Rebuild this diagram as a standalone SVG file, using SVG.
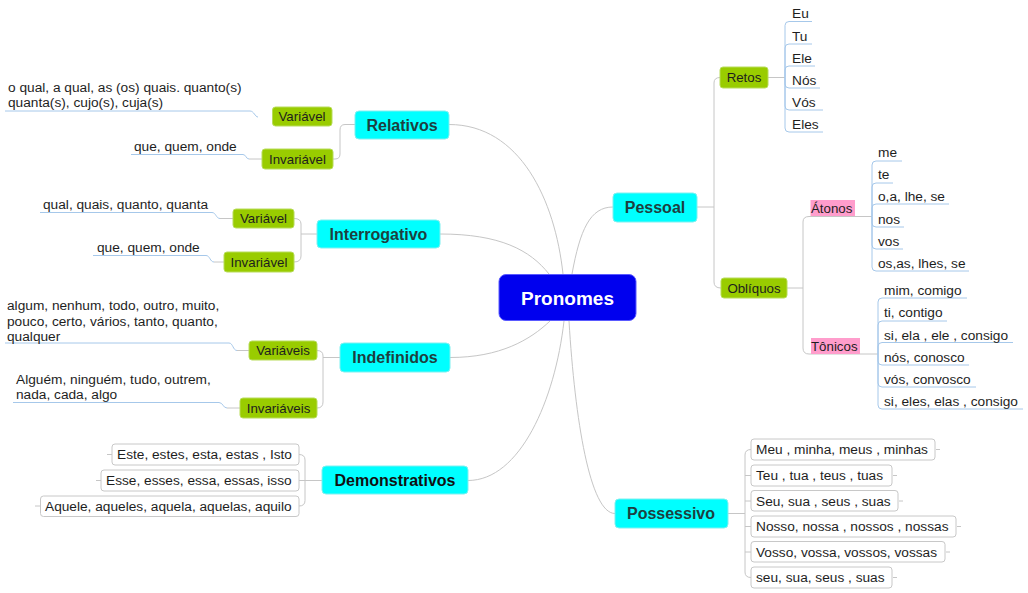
<svg xmlns="http://www.w3.org/2000/svg" width="1028" height="593" viewBox="0 0 1028 593">
<style>
text{font-family:"Liberation Sans",Arial,sans-serif;fill:#1e1e1e;font-size:13.7px}
.main{fill:#00ffff;stroke:#7ff0f0;stroke-width:1}
.main-t{font-size:16px;font-weight:bold;fill:#1d3f40;text-anchor:middle}
.sub{fill:#99cc00;stroke:#b8dc5a;stroke-width:1}
.sub-t{text-anchor:middle;font-size:13.3px}
.pink{fill:#ff9dcc}
.leaf{fill:#ffffff;stroke:#c8c8c8;stroke-width:1}
.c{fill:none;stroke:#c6c6c6;stroke-width:1}
.u{fill:none;stroke:#a6c8ea;stroke-width:1}
</style>
<rect width="1028" height="593" fill="#ffffff"/>
<g id="connectors">
<path class="c" d="M449,124.5 C520,124.5 555,200 563,274"/>
<path class="c" d="M440,234 C500,234 530,250 549,274"/>
<path class="c" d="M572,274 C580,230 590,207 613,207"/>
<path class="c" d="M450,357.5 C500,357.5 530,340 550,321"/>
<path class="c" d="M468,480.5 C520,480.5 555,400 564,321"/>
<path class="c" d="M569,321 C575,420 590,513.5 615,513.5"/>
<path class="c" d="M355,124.5 H345 Q340,124.5 340,130 V154 Q340,159 335,159 H333"/>
<path class="u" d="M5,111 H250 C254,111 255,117 258,117"/>
<path class="u" d="M131,154.5 H243 C246,154.5 246,159 249,159"/>
<path class="c" d="M249,159 H262"/>
<path class="c" d="M317,234 H301"/>
<path class="c" d="M294,218.5 Q301,218.5 301,224 V256 Q301,262 294,262"/>
<path class="u" d="M40,212.5 H212 C216,212.5 216,218.5 220,218.5"/>
<path class="c" d="M220,218.5 H233"/>
<path class="u" d="M93,255.5 H206 C210,255.5 210,262 214,262"/>
<path class="c" d="M214,262 H224"/>
<path class="c" d="M340,357.5 H323"/>
<path class="c" d="M317,350.5 Q323,350.5 323,356 V402 Q323,408 317,408"/>
<path class="u" d="M5,343 H229 C233,343 233,350.5 237,350.5"/>
<path class="c" d="M237,350.5 H249"/>
<path class="u" d="M13,402.5 H219 C223,402.5 223,408 227,408"/>
<path class="c" d="M227,408 H240"/>
<path class="c" d="M322,480.5 H299"/>
<path class="c" d="M299,454.5 Q305,454.5 305,460 V500.5 Q305,506 299,506"/>
<path class="c" d="M107,454.5 H112 M96,480.5 H101 M35,506 H40"/>
<path class="c" d="M697,207 H714"/>
<path class="c" d="M720,77.5 Q714,77.5 714,83 V282 Q714,288 721,288"/>
<path class="c" d="M768,77.5 H785"/>
<path class="u" d="M785,77.5 V25.5 Q785,21.5 789,21.5 H812"/>
<path class="u" d="M785,77.5 V48 Q785,44 789,44 H812"/>
<path class="u" d="M785,77.5 V70 Q785,66 789,66 H815"/>
<path class="u" d="M785,77.5 V84 Q785,88 789,88 H820"/>
<path class="u" d="M785,77.5 V106 Q785,110 789,110 H823"/>
<path class="u" d="M785,77.5 V128 Q785,132 789,132 H823"/>
<path class="c" d="M787,288 H803"/>
<path class="c" d="M872,216.5 H809 Q803,216.5 803,222 V348 Q803,354 809,354 H878"/>
<path class="u" d="M872,216.5 V165 Q872,161 876,161 H902"/>
<path class="u" d="M872,216.5 V187 Q872,183 876,183 H893"/>
<path class="u" d="M872,216.5 V208 Q872,204 876,204 H949"/>
<path class="u" d="M872,216.5 V223 Q872,227 876,227 H904"/>
<path class="u" d="M872,216.5 V245 Q872,249 876,249 H903"/>
<path class="u" d="M872,216.5 V267 Q872,271 876,271 H969"/>
<path class="u" d="M878,354 V302 Q878,298 882,298 H967"/>
<path class="u" d="M878,354 V325 Q878,321 882,321 H947"/>
<path class="u" d="M878,354 V346.5 Q878,342.5 882,342.5 H1013"/>
<path class="u" d="M878,354 V361 Q878,365 882,365 H969"/>
<path class="u" d="M878,354 V383 Q878,387 882,387 H976"/>
<path class="u" d="M878,354 V405 Q878,409 882,409 H1023"/>
<path class="c" d="M728,513.5 H745"/>
<path class="c" d="M751,449.5 Q745,449.5 745,455 V572 Q745,577.5 751,577.5"/>
<path class="c" d="M745,475.5 H751 M745,501 H751 M745,526.5 H751 M745,552 H751"/>
<path class="c" d="M936,449.5 H940 M893,475.5 H897 M899,501 H903 M957,526.5 H961 M946,552 H950 M893,577.5 H897"/>
</g>
<g id="pronomes">
<rect x="499" y="274.5" width="137" height="46" rx="7" fill="#0000ee" stroke="#5a5aff"/>
<text x="567.5" y="305" style="font-size:19px;font-weight:bold;fill:#ffffff;text-anchor:middle">Pronomes</text>
</g>
<g id="relativos">
<rect class="main" x="355" y="111" width="94" height="28" rx="4"/>
<text class="main-t" x="402" y="131">Relativos</text>
</g>
<g id="rel-variavel">
<rect class="sub" x="272.5" y="107" width="59.5" height="19" rx="3"/>
<text class="sub-t" x="302" y="121">Variável</text>
</g>
<g id="rel-variavel-items">
<text x="8" y="92">o qual, a qual, as (os) quais. quanto(s)</text>
<text x="8" y="107">quanta(s), cujo(s), cuja(s)</text>
</g>
<g id="rel-invariavel">
<rect class="sub" x="262" y="149" width="71" height="20" rx="3"/>
<text class="sub-t" x="297.5" y="163.5">Invariável</text>
</g>
<g id="rel-invariavel-items"><text x="134" y="150.5">que, quem, onde</text></g>
<g id="interrogativo">
<rect class="main" x="317" y="220" width="123" height="28" rx="4"/>
<text class="main-t" x="378.5" y="239.5">Interrogativo</text>
</g>
<g id="int-variavel">
<rect class="sub" x="233" y="209" width="61" height="19" rx="3"/>
<text class="sub-t" x="263.5" y="223">Variável</text>
</g>
<g id="int-variavel-items"><text x="43" y="208.5">qual, quais, quanto, quanta</text></g>
<g id="int-invariavel">
<rect class="sub" x="224" y="252" width="70" height="20" rx="3"/>
<text class="sub-t" x="259" y="266.5">Invariável</text>
</g>
<g id="int-invariavel-items"><text x="97" y="251.5">que, quem, onde</text></g>
<g id="indefinidos">
<rect class="main" x="340" y="343" width="110" height="29" rx="4"/>
<text class="main-t" x="395" y="363">Indefinidos</text>
</g>
<g id="ind-variaveis">
<rect class="sub" x="249" y="341" width="68" height="19" rx="3"/>
<text class="sub-t" x="283" y="355">Variáveis</text>
</g>
<g id="ind-variaveis-items">
<text x="7" y="309.5">algum, nenhum, todo, outro, muito,</text>
<text x="7" y="325.5">pouco, certo, vários, tanto, quanto,</text>
<text x="7" y="340.5">qualquer</text>
</g>
<g id="ind-invariaveis">
<rect class="sub" x="240" y="398" width="77" height="20" rx="3"/>
<text class="sub-t" x="278.5" y="412.5">Invariáveis</text>
</g>
<g id="ind-invariaveis-items">
<text x="16" y="383.5">Alguém, ninguém, tudo, outrem,</text>
<text x="16" y="398.5">nada, cada, algo</text>
</g>
<g id="demonstrativos">
<rect class="main" x="322" y="466" width="146" height="28" rx="4"/>
<text class="main-t" x="395" y="486" style="fill:#111">Demonstrativos</text>
</g>
<g id="dem-1"><rect class="leaf" x="112" y="444" width="187" height="21" rx="3"/><text x="117" y="459">Este, estes, esta, estas , Isto</text></g>
<g id="dem-2"><rect class="leaf" x="101" y="470" width="198" height="21" rx="3"/><text x="106" y="485">Esse, esses, essa, essas, isso</text></g>
<g id="dem-3"><rect class="leaf" x="40.5" y="496" width="258.5" height="20.5" rx="3"/><text x="45" y="510.5">Aquele, aqueles, aquela, aquelas, aquilo</text></g>
<g id="pessoal">
<rect class="main" x="613" y="193" width="84" height="29" rx="4"/>
<text class="main-t" x="655" y="213">Pessoal</text>
</g>
<g id="retos">
<rect class="sub" x="720" y="67" width="48" height="21" rx="3"/>
<text class="sub-t" x="744" y="82">Retos</text>
</g>
<g id="retos-items">
<text x="792" y="18">Eu</text>
<text x="792" y="40.5">Tu</text>
<text x="792" y="62.5">Ele</text>
<text x="792" y="84.5">Nós</text>
<text x="792" y="106.5">Vós</text>
<text x="792" y="128.5">Eles</text>
</g>
<g id="obliquos">
<rect class="sub" x="721" y="278" width="66" height="20" rx="3"/>
<text class="sub-t" x="754" y="292.5">Oblíquos</text>
</g>
<g id="atonos">
<rect class="pink" x="810.5" y="200" width="44.5" height="16"/>
<text x="811" y="212.5" style="font-size:13.3px">Átonos</text>
</g>
<g id="atonos-items">
<text x="878" y="157">me</text>
<text x="878" y="179">te</text>
<text x="878" y="200.5">o,a, lhe, se</text>
<text x="878" y="223.5">nos</text>
<text x="878" y="245.5">vos</text>
<text x="878" y="267.5">os,as, lhes, se</text>
</g>
<g id="tonicos">
<rect class="pink" x="811" y="338" width="49" height="16"/>
<text x="811" y="350.5" style="font-size:13.3px">Tônicos</text>
</g>
<g id="tonicos-items">
<text x="884" y="295">mim, comigo</text>
<text x="884" y="317">ti, contigo</text>
<text x="884" y="339.5">si, ela , ele , consigo</text>
<text x="884" y="361.5">nós, conosco</text>
<text x="884" y="383.5">vós, convosco</text>
<text x="884" y="406">si, eles, elas , consigo</text>
</g>
<g id="possessivo">
<rect class="main" x="615" y="499" width="113" height="29" rx="4"/>
<text class="main-t" x="671" y="519">Possessivo</text>
</g>
<g id="pos-1"><rect class="leaf" x="751" y="439" width="184" height="21" rx="3"/><text x="756" y="454">Meu , minha, meus , minhas</text></g>
<g id="pos-2"><rect class="leaf" x="751" y="465" width="141" height="21" rx="3"/><text x="756" y="480">Teu , tua , teus , tuas</text></g>
<g id="pos-3"><rect class="leaf" x="751" y="490.5" width="147" height="20.5" rx="3"/><text x="756" y="505.5">Seu, sua , seus , suas</text></g>
<g id="pos-4"><rect class="leaf" x="751" y="516" width="205" height="21" rx="3"/><text x="756" y="531">Nosso, nossa , nossos , nossas</text></g>
<g id="pos-5"><rect class="leaf" x="751" y="541.5" width="194" height="20.5" rx="3"/><text x="756" y="556.5">Vosso, vossa, vossos, vossas</text></g>
<g id="pos-6"><rect class="leaf" x="751" y="567" width="141" height="21" rx="3"/><text x="756" y="582">seu, sua, seus , suas</text></g>
</svg>
